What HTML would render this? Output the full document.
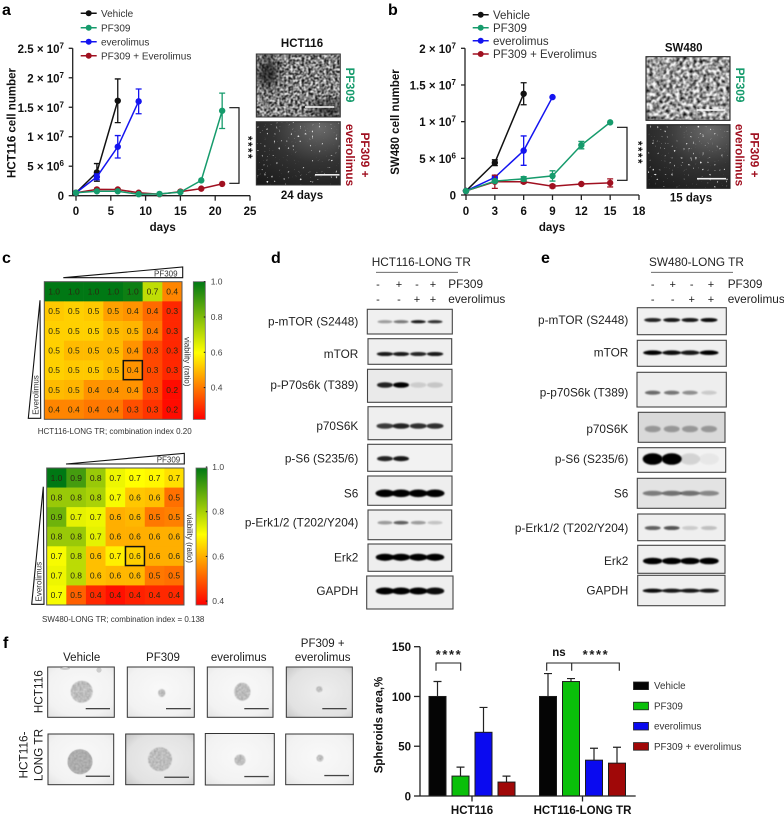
<!DOCTYPE html>
<html lang="en">
<head>
<meta charset="utf-8">
<title>PF309 and everolimus figure</title>
<style>
html,body{margin:0;padding:0;background:#fff;width:784px;height:820px;overflow:hidden}
svg{position:absolute;left:0;top:0;display:block}
text{font-family:"Liberation Sans",Arial,sans-serif;fill:#1c1c1c}
.b{font-weight:bold}
.letter{font-size:16px;font-weight:bold;fill:#000}
.tick{font-size:11.5px;font-weight:bold;fill:#111}
.lane{font-size:11.8px;fill:#222}
.cap{font-size:8px;fill:#333}
</style>
</head>
<body>
<svg id="figure" width="784" height="820" viewBox="0 0 784 820" xmlns="http://www.w3.org/2000/svg">
<defs>
  <filter id="noiseBright" color-interpolation-filters="sRGB" x="0" y="0" width="100%" height="100%"><feTurbulence type="fractalNoise" baseFrequency="0.45" numOctaves="2" seed="4"/><feColorMatrix type="matrix" values="2.6 0 0 0 -0.8 2.6 0 0 0 -0.8 2.6 0 0 0 -0.8 0 0 0 0 1"/><feGaussianBlur stdDeviation="0.4"/></filter>
  <filter id="noiseMottled" color-interpolation-filters="sRGB" x="0" y="0" width="100%" height="100%"><feTurbulence type="fractalNoise" baseFrequency="0.3" numOctaves="2" seed="9"/><feColorMatrix type="matrix" values="2 0 0 0 -0.38 2 0 0 0 -0.38 2 0 0 0 -0.38 0 0 0 0 1"/><feGaussianBlur stdDeviation="0.4"/></filter>
  <filter id="sparks" color-interpolation-filters="sRGB" x="0" y="0" width="100%" height="100%"><feTurbulence type="fractalNoise" baseFrequency="0.42" numOctaves="1" seed="12"/><feColorMatrix type="matrix" values="0 0 0 0 1 0 0 0 0 1 0 0 0 0 1 12 0 0 0 -8.2"/><feGaussianBlur stdDeviation="0.35"/></filter>
  <filter id="soft" x="-30%" y="-30%" width="160%" height="160%"><feGaussianBlur stdDeviation="5"/></filter>
  <filter id="bandBlur" x="-30%" y="-100%" width="160%" height="300%"><feGaussianBlur stdDeviation="0.9"/></filter>
  <filter id="spheroidTex" color-interpolation-filters="sRGB" x="-10%" y="-10%" width="120%" height="120%"><feTurbulence type="fractalNoise" baseFrequency="0.55" numOctaves="2" seed="3" result="n"/><feColorMatrix in="n" type="matrix" values="0.36 0 0 0 0.56 0.36 0 0 0 0.56 0.36 0 0 0 0.56 0 0 0 0 1" result="g"/><feComposite in="g" in2="SourceAlpha" operator="in"/><feGaussianBlur stdDeviation="0.5"/></filter>
  <radialGradient id="bgLight" cx="50%" cy="45%" r="75%"><stop offset="0" stop-color="#f9f9f9"/><stop offset="0.7" stop-color="#f2f2f2"/><stop offset="1" stop-color="#e2e2e2"/></radialGradient>
  <radialGradient id="bgMid" cx="55%" cy="50%" r="75%"><stop offset="0" stop-color="#eeeeee"/><stop offset="0.7" stop-color="#e2e2e2"/><stop offset="1" stop-color="#c4c4c4"/></radialGradient>
  <radialGradient id="bgDark" cx="75%" cy="10%" r="110%"><stop offset="0" stop-color="#6a6a6a"/><stop offset="0.5" stop-color="#333"/><stop offset="1" stop-color="#1b1b1b"/></radialGradient>
  <linearGradient id="cbar1" x1="0" y1="1" x2="0" y2="0"><stop offset="0" stop-color="#ff0000"/><stop offset="0.485" stop-color="#ffff00"/><stop offset="1" stop-color="#007814"/></linearGradient>
  <linearGradient id="cbar2" x1="0" y1="1" x2="0" y2="0"><stop offset="0" stop-color="#ff0000"/><stop offset="0.516" stop-color="#ffff00"/><stop offset="1" stop-color="#007814"/></linearGradient>
  <clipPath id="clipA1"><rect x="256.3" y="54" width="84" height="63"/></clipPath>
</defs>

<text class="letter" x="2" y="15">a</text>
<text class="letter" x="388" y="15">b</text>
<text class="letter" x="2" y="263">c</text>
<text class="letter" x="271" y="263">d</text>
<text class="letter" x="541" y="263">e</text>
<text class="letter" x="3" y="648">f</text>

<!-- Panel a chart container -->
<g id="chartA"></g>
<text class="tick" x="162.7" y="231" text-anchor="middle">days</text>
<text class="tick" transform="translate(15.5,123) rotate(-90)" text-anchor="middle">HCT116 cell number</text>
<path d="M229.3 107.7H239V183.3H229.3" fill="none" stroke="#111" stroke-width="1.2"/>
<text class="tick" transform="translate(244,148) rotate(90)" text-anchor="middle" style="letter-spacing:1.5px">****</text>

<!-- Panel a photos -->
<text class="tick" x="302" y="47" text-anchor="middle">HCT116</text>
<g clip-path="url(#clipA1)">
  <rect x="256.3" y="54" width="84" height="63" fill="#777" filter="url(#noiseBright)"/>
  <ellipse cx="268" cy="73" rx="10" ry="16" fill="#111" opacity="0.7" filter="url(#soft)"/>
  <ellipse cx="328" cy="109" rx="18" ry="7" fill="#111" opacity="0.7" filter="url(#soft)"/>
  <rect x="305" y="106.2" width="29.3" height="1.6" fill="#eee"/>
</g>
<rect x="256.3" y="54" width="84" height="63" fill="none" stroke="#333" stroke-width="1"/>
<g>
  <rect x="256.3" y="121.7" width="84" height="63.3" fill="url(#bgDark)"/>
  <rect x="256.3" y="121.7" width="84" height="63.3" fill="#fff" filter="url(#sparks)" opacity="0.85"/>
  <rect x="315" y="174" width="24.5" height="1.6" fill="#eee"/>
  <rect x="256.3" y="121.7" width="84" height="63.3" fill="none" stroke="#333" stroke-width="1"/>
</g>
<text class="tick" x="302" y="199" text-anchor="middle">24 days</text>
<text class="b" font-size="11.8" style="fill:#169b6c" transform="translate(346,85) rotate(90)" text-anchor="middle">PF309</text>
<text class="b" font-size="11.8" style="fill:#a01020" transform="translate(361,155) rotate(90)" text-anchor="middle">PF309 +</text>
<text class="b" font-size="11.8" style="fill:#a01020" transform="translate(346,155) rotate(90)" text-anchor="middle">everolimus</text>

<!-- Panel b chart container -->
<g id="chartB"></g>
<text class="tick" x="552" y="231" text-anchor="middle">days</text>
<text class="tick" transform="translate(399,122) rotate(-90)" text-anchor="middle">SW480 cell number</text>
<path d="M617 127.3H627V180.3H617" fill="none" stroke="#111" stroke-width="1.2"/>
<text class="tick" transform="translate(634,153) rotate(90)" text-anchor="middle" style="letter-spacing:1.5px">****</text>

<!-- Panel b photos -->
<text class="tick" x="683.7" y="51.7" text-anchor="middle">SW480</text>
<g>
  <rect x="646" y="56.7" width="84" height="63.6" fill="#999" filter="url(#noiseMottled)"/>
  <rect x="697" y="109.2" width="28.3" height="1.6" fill="#f4f4f4"/>
  <rect x="646" y="56.7" width="84" height="63.6" fill="none" stroke="#222" stroke-width="1.1"/>
</g>
<g>
  <rect x="647" y="124.7" width="83" height="63.6" fill="url(#bgDark)"/>
  <rect x="647" y="124.7" width="83" height="63.6" fill="#fff" filter="url(#sparks)" opacity="0.85"/>
  <rect x="697" y="177.9" width="29" height="1.6" fill="#f4f4f4"/>
  <rect x="647" y="124.7" width="83" height="63.6" fill="none" stroke="#222" stroke-width="1.1"/>
</g>
<text class="tick" x="691" y="201.7" text-anchor="middle">15 days</text>
<text class="b" font-size="11.8" style="fill:#169b6c" transform="translate(736,85) rotate(90)" text-anchor="middle">PF309</text>
<text class="b" font-size="11.8" style="fill:#a01020" transform="translate(750.5,155) rotate(90)" text-anchor="middle">PF309 +</text>
<text class="b" font-size="11.8" style="fill:#a01020" transform="translate(735.5,155) rotate(90)" text-anchor="middle">everolimus</text>

<!-- Panel c heatmap 1 -->
<g id="heat1"></g>
<polygon points="63.3,277.7 182.7,267 182.7,277.7" fill="#fff" stroke="#111" stroke-width="1.1"/>
<text x="154" y="276.4" font-size="8" style="fill:#333">PF309</text>
<polygon points="40,300.3 28.3,418.3 40.7,418.3" fill="#fff" stroke="#111" stroke-width="1.1"/>
<text transform="translate(38.5,395) rotate(-90)" text-anchor="middle" font-size="8" style="fill:#333">Everolimus</text>
<rect x="193.3" y="281.7" width="12" height="137.7" fill="url(#cbar1)" stroke="#666" stroke-width="0.8"/>
<text transform="translate(184.5,361.7) rotate(90)" text-anchor="middle" font-size="8" style="fill:#333">viability (ratio)</text>
<text class="cap" x="37.7" y="434">HCT116-LONG TR; combination index 0.20</text>

<!-- Panel c heatmap 2 -->
<g id="heat2"></g>
<polygon points="66,464 184.3,453.3 184.3,464" fill="#fff" stroke="#111" stroke-width="1.1"/>
<text x="156.7" y="462.6" font-size="8" style="fill:#333">PF309</text>
<polygon points="43.3,486.7 31.7,604.3 44,604.3" fill="#fff" stroke="#111" stroke-width="1.1"/>
<text transform="translate(41.5,581.7) rotate(-90)" text-anchor="middle" font-size="8" style="fill:#333">Everolimus</text>
<rect x="196" y="468" width="11.3" height="137" fill="url(#cbar2)" stroke="#666" stroke-width="0.8"/>
<text transform="translate(186.8,538.3) rotate(90)" text-anchor="middle" font-size="8" style="fill:#333">viability (ratio)</text>
<text class="cap" x="42" y="622">SW480-LONG TR; combination index = 0.138</text>

<!-- Panel d header -->
<text class="lane" x="371.7" y="266">HCT116-LONG TR</text>
<line x1="376" x2="458" y1="272.3" y2="272.3" stroke="#555" stroke-width="0.8"/>
<g font-size="11">
  <text x="378" y="288" text-anchor="middle">-</text><text x="399" y="288" text-anchor="middle">+</text><text x="417" y="288" text-anchor="middle">-</text><text x="433" y="288" text-anchor="middle">+</text>
  <text x="378" y="303" text-anchor="middle">-</text><text x="399" y="303" text-anchor="middle">-</text><text x="417" y="303" text-anchor="middle">+</text><text x="433" y="303" text-anchor="middle">+</text>
</g>
<text class="lane" x="448.3" y="288">PF309</text>
<text class="lane" x="448.3" y="303">everolimus</text>
<g id="blotD"></g>

<!-- Panel e header -->
<text class="lane" x="649" y="266">SW480-LONG TR</text>
<line x1="651" x2="733" y1="272.3" y2="272.3" stroke="#555" stroke-width="0.8"/>
<g font-size="11">
  <text x="652.7" y="288" text-anchor="middle">-</text><text x="672.7" y="288" text-anchor="middle">+</text><text x="691.7" y="288" text-anchor="middle">-</text><text x="711" y="288" text-anchor="middle">+</text>
  <text x="652.7" y="303" text-anchor="middle">-</text><text x="672.7" y="303" text-anchor="middle">-</text><text x="691.7" y="303" text-anchor="middle">+</text><text x="711" y="303" text-anchor="middle">+</text>
</g>
<text class="lane" x="727.7" y="288">PF309</text>
<text class="lane" x="727.7" y="303">everolimus</text>
<g id="blotE"></g>

<!-- Panel f photos -->
<g font-size="11.5">
  <text x="81.7" y="661" text-anchor="middle">Vehicle</text>
  <text x="163" y="661" text-anchor="middle">PF309</text>
  <text x="238.7" y="661" text-anchor="middle">everolimus</text>
  <text x="322.7" y="647" text-anchor="middle">PF309 +</text>
  <text x="322.7" y="661" text-anchor="middle">everolimus</text>
</g>
<text font-size="11.8" transform="translate(42.5,691.7) rotate(-90)" text-anchor="middle">HCT116</text>
<text font-size="11.8" transform="translate(27.5,755) rotate(-90)" text-anchor="middle">HCT116-</text>
<text font-size="11.8" transform="translate(42.5,755) rotate(-90)" text-anchor="middle">LONG TR</text>

<g><rect x="47.7" y="667" width="66.6" height="50.3" fill="url(#bgLight)" stroke="#333" stroke-width="1"/><circle cx="81.7" cy="691.7" r="11" fill="#bbb" filter="url(#spheroidTex)"/><ellipse cx="65" cy="668.5" rx="5" ry="1.5" fill="#ccc"/><circle cx="99" cy="670" r="2.6" fill="#ccc"/><rect x="85.7" y="708" width="24.3" height="1.3" fill="#444"/></g>
<g><rect x="127.3" y="667" width="67" height="50.3" fill="url(#bgLight)" stroke="#333" stroke-width="1"/><ellipse cx="161.7" cy="693" rx="3.6" ry="4" fill="#aaa" filter="url(#spheroidTex)"/><rect x="166" y="708" width="24.7" height="1.3" fill="#444"/></g>
<g><rect x="207.3" y="667" width="65.7" height="50.3" fill="url(#bgLight)" stroke="#333" stroke-width="1"/><ellipse cx="242.3" cy="691.7" rx="8.2" ry="9" fill="#bbb" filter="url(#spheroidTex)"/><rect x="244.3" y="708" width="24.4" height="1.3" fill="#444"/></g>
<g><rect x="286.3" y="667" width="66" height="50.3" fill="url(#bgMid)" stroke="#333" stroke-width="1"/><ellipse cx="319.3" cy="689.3" rx="3.2" ry="3" fill="#999" filter="url(#spheroidTex)"/><rect x="322.3" y="708" width="24.4" height="1.3" fill="#444"/></g>
<g><rect x="48" y="734" width="65.7" height="50.7" fill="url(#bgLight)" stroke="#333" stroke-width="1"/><circle cx="80" cy="761.7" r="12.5" fill="#888" filter="url(#spheroidTex)"/><circle cx="80" cy="761.7" r="12.5" fill="#777" opacity="0.22"/><rect x="85.7" y="775.6" width="24.3" height="1.3" fill="#444"/></g>
<g><rect x="125.7" y="734" width="68.3" height="50.7" fill="url(#bgMid)" stroke="#333" stroke-width="1"/><circle cx="160" cy="759.3" r="12" fill="#aaa" filter="url(#spheroidTex)"/><rect x="164.3" y="776.6" width="24.7" height="1.3" fill="#444"/></g>
<g><rect x="205.3" y="733.5" width="69" height="51.5" fill="url(#bgLight)" stroke="#333" stroke-width="1"/><circle cx="240" cy="760" r="5.5" fill="#999" filter="url(#spheroidTex)"/><rect x="244.3" y="775.9" width="24.4" height="1.3" fill="#444"/></g>
<g><rect x="285.7" y="734" width="67.6" height="50.7" fill="url(#bgLight)" stroke="#333" stroke-width="1"/><circle cx="320" cy="758.3" r="3.5" fill="#aaa" filter="url(#spheroidTex)"/><rect x="324.3" y="774.9" width="24.7" height="1.3" fill="#444"/></g>

<!-- Panel f bar chart -->
<text class="tick" transform="translate(382.7,725) rotate(-90)" text-anchor="middle">Spheroids area,%</text>
<g id="barChart"></g>
<path d="M436 670.7V663H460.7V670.7" fill="none" stroke="#222" stroke-width="1.1"/>
<text x="449" y="659" font-size="13" font-weight="bold" text-anchor="middle" style="letter-spacing:1.6px">****</text>
<path d="M546.7 670.7V663H619.3V670.7M571.7 663V670.7" fill="none" stroke="#222" stroke-width="1.1"/>
<text class="tick" x="559" y="656" text-anchor="middle">ns</text>
<text x="596" y="659" font-size="13" font-weight="bold" text-anchor="middle" style="letter-spacing:1.6px">****</text>

<script>
// ---------- Panel a data ----------
const aXTicks = [0, 5, 10, 15, 20, 25];
const aYTicks = [0, 5e6, 1e7, 1.5e7, 2e7, 2.5e7];
const aYTickLabels = [['0', ''], ['5 × 10', '6'], ['1 × 10', '7'], ['1.5 × 10', '7'], ['2 × 10', '7'], ['2.5 × 10', '7']];
const aVehicleDays = [0, 3, 6];
const aVehicleMean = [5e5, 3.95e6, 1.61e7];
const aVehicleErr = [0, 1.5e6, 3.7e6];
const aEveroDays = [0, 3, 6, 9];
const aEveroMean = [5e5, 3.2e6, 8.3e6, 1.6e7];
const aEveroErr = [0, 5e5, 1.9e6, 2.1e6];
const aPfDays = [0, 3, 6, 9, 12, 15, 18, 21];
const aPfMean = [5e5, 7.5e5, 7.5e5, 2.5e5, 3e5, 6e5, 2.6e6, 1.44e7];
const aPfErr = [0, 0, 0, 0, 0, 0, 0, 3e6];
const aComboDays = [0, 3, 6, 9, 12, 15, 18, 21];
const aComboMean = [5e5, 1.07e6, 1.05e6, 5e5, 2.5e5, 7e5, 1.2e6, 2e6];
const aComboErr = [0, 0, 0, 0, 0, 0, 0, 0];

// ---------- Panel b data ----------
const bXTicks = [0, 3, 6, 9, 12, 15, 18];
const bYTicks = [0, 5e6, 1e7, 1.5e7, 2e7];
const bYTickLabels = [['0', ''], ['5 × 10', '6'], ['1 × 10', '7'], ['1.5 × 10', '7'], ['2 × 10', '7']];
const bVehicleDays = [0, 3, 6];
const bVehicleMean = [5.5e5, 4.4e6, 1.38e7];
const bVehicleErr = [0, 4e5, 1.5e6];
const bEveroDays = [0, 3, 6, 9];
const bEveroMean = [5.5e5, 2.4e6, 6.05e6, 1.335e7];
const bEveroErr = [0, 2e5, 2e6, 0];
const bPfDays = [0, 3, 6, 9, 12, 15];
const bPfMean = [5.5e5, 1.9e6, 2.2e6, 2.6e6, 6.8e6, 9.9e6];
const bPfErr = [0, 2e5, 3e5, 7e5, 5e5, 0];
const bComboDays = [0, 3, 6, 9, 12, 15];
const bComboMean = [5.5e5, 1.8e6, 1.8e6, 1.2e6, 1.5e6, 1.65e6];
const bComboErr = [0, 9e5, 2e5, 2e5, 1e5, 5.5e5];

const seriesNames = ['Vehicle', 'PF309', 'everolimus', 'PF309 + Everolimus'];

// ---------- Heatmap data (estimated; labels are the rounded values) ----------
const heat1Values = [
  [1.00, 1.00, 1.00, 1.00, 0.98, 0.70, 0.42],
  [0.52, 0.53, 0.52, 0.46, 0.44, 0.38, 0.28],
  [0.53, 0.53, 0.53, 0.50, 0.49, 0.40, 0.28],
  [0.53, 0.50, 0.50, 0.50, 0.44, 0.33, 0.28],
  [0.53, 0.52, 0.52, 0.50, 0.44, 0.33, 0.28],
  [0.50, 0.49, 0.44, 0.44, 0.44, 0.33, 0.24],
  [0.42, 0.42, 0.40, 0.40, 0.34, 0.30, 0.24]
];
const heat2Values = [
  [1.00, 0.92, 0.82, 0.72, 0.70, 0.69, 0.66],
  [0.82, 0.82, 0.80, 0.71, 0.63, 0.62, 0.52],
  [0.87, 0.73, 0.72, 0.60, 0.61, 0.53, 0.54],
  [0.82, 0.82, 0.73, 0.60, 0.60, 0.60, 0.60],
  [0.71, 0.78, 0.62, 0.68, 0.64, 0.60, 0.60],
  [0.72, 0.78, 0.62, 0.61, 0.61, 0.53, 0.52],
  [0.71, 0.50, 0.43, 0.40, 0.42, 0.43, 0.43]
];
const heat1Ticks = [0.4, 0.6, 0.8, 1.0];
const heat2Ticks = [0.4, 0.6, 0.8, 1.0];

// ---------- Bar chart data ----------
const barGroups = ['HCT116', 'HCT116-LONG TR'];
const barSeriesNames = ['Vehicle', 'PF309', 'everolimus', 'PF309 + everolimus'];
const barHct116Values = [100, 20, 64, 14];
const barHct116Errors = [15, 9, 25, 6];
const barLongValues = [100, 115, 36, 33];
const barLongErrors = [23, 3, 12, 16];
const barYTicks = [0, 50, 100, 150];

const SVGNS = 'http://www.w3.org/2000/svg';
function el(tag, attrs, parent) {
  const node = document.createElementNS(SVGNS, tag);
  for (const k in attrs) node.setAttribute(k, attrs[k]);
  parent.appendChild(node);
  return node;
}

// ---------- Line charts ----------
const seriesColors = { vehicle: '#111111', pf: '#169b6c', evero: '#1414f0', combo: '#a01020' };

function drawAxes(g, xScale, yScale, xTicks, yTicks, yLabels, axisX, xEnd, labelX, prefix) {
  const yAxis = el('line', { x1: axisX, x2: axisX, y1: yScale(yTicks[yTicks.length - 1]), y2: yScale(0), stroke: '#222', 'stroke-width': 1.3 }, g);
  
  
  const xAxis = el('line', { x1: axisX, x2: xEnd, y1: yScale(0), y2: yScale(0), stroke: '#222', 'stroke-width': 1.3 }, g);
  
  
  xTicks.forEach(function (t) {
    const mark = el('line', { x1: xScale(t), x2: xScale(t), y1: yScale(0), y2: yScale(0) + 5, stroke: '#222', 'stroke-width': 1.3 }, g);
    
    
    const lab = el('text', { x: xScale(t), y: 215, 'text-anchor': 'middle', class: 'tick' }, g);
    
    
    lab.textContent = t;
  });
  yTicks.forEach(function (t, i) {
    const mark = el('line', { x1: axisX - 4, x2: axisX, y1: yScale(t), y2: yScale(t), stroke: '#222', 'stroke-width': 1.3 }, g);
    
    
    const lab = el('text', { x: labelX, y: yScale(t) + 4.5, 'text-anchor': 'end', class: 'tick' }, g);
    
    
    lab.textContent = yLabels[i][0];
    if (yLabels[i][1]) {
      const sup = el('tspan', { dy: -4.5, 'font-size': 8 }, lab);
      sup.textContent = yLabels[i][1];
    }
  });
}

function drawSeries(g, xScale, yScale, days, mean, err, color, name) {
  const points = days.map(function (d, i) { return xScale(d) + ',' + yScale(mean[i]); }).join(' ');
  const line = el('polyline', { points: points, fill: 'none', stroke: color, 'stroke-width': 1.5 }, g);
  
  
  days.forEach(function (d, i) {
    const cx = xScale(d);
    if (err[i] > 0) {
      const bar = el('path', {
        d: 'M' + (cx - 3) + ' ' + yScale(mean[i] + err[i]) + 'H' + (cx + 3) + 'M' + cx + ' ' + yScale(mean[i] + err[i]) + 'V' + yScale(mean[i] - err[i]) + 'M' + (cx - 3) + ' ' + yScale(mean[i] - err[i]) + 'H' + (cx + 3),
        fill: 'none', stroke: color, 'stroke-width': 1.3
      }, g);
      
      
    }
    const dot = el('circle', { cx: cx, cy: yScale(mean[i]), r: 3.2, fill: color }, g);
    
    
  });
}

function drawLegend(g, colors, lineX, textX, rowYs, size, prefix) {
  seriesNames.forEach(function (label, i) {
    const row = el('g', {}, g);
    
    
    el('line', { x1: lineX, x2: lineX + 16, y1: rowYs[i], y2: rowYs[i], stroke: colors[i], 'stroke-width': 1.5 }, row);
    el('circle', { cx: lineX + 8, cy: rowYs[i], r: 3, fill: colors[i] }, row);
    const t = el('text', { x: textX, y: rowYs[i] + size * 0.36, 'font-size': size }, row);
    
    
    t.style.fill = '#333';
    t.textContent = label;
  });
}

(function () {
  const g = document.getElementById('chartA');
  const x = function (d) { return 76 + d * (250 - 76) / 25; };
  const y = function (v) { return 195.7 - v * (195.7 - 48.3) / 2.5e7; };
  drawAxes(g, x, y, aXTicks, aYTicks, aYTickLabels, 72.7, 250, 64, 'chart-a');
  drawSeries(g, x, y, aVehicleDays, aVehicleMean, aVehicleErr, seriesColors.vehicle, 'vehicle-a');
  drawSeries(g, x, y, aEveroDays, aEveroMean, aEveroErr, seriesColors.evero, 'everolimus-a');
  drawSeries(g, x, y, aComboDays, aComboMean, aComboErr, seriesColors.combo, 'combination-a');
  drawSeries(g, x, y, aPfDays, aPfMean, aPfErr, seriesColors.pf, 'pf309-a');
  drawLegend(g, [seriesColors.vehicle, seriesColors.pf, seriesColors.evero, seriesColors.combo], 80.7, 101, [13.3, 27.7, 41.7, 55.7], 10, 'chart-a');

  const gb = document.getElementById('chartB');
  const xb = function (d) { return 466 + d * (639 - 466) / 18; };
  const yb = function (v) { return 195 - v * (195 - 48.3) / 2e7; };
  drawAxes(gb, xb, yb, bXTicks, bYTicks, bYTickLabels, 465, 639, 456, 'chart-b');
  drawSeries(gb, xb, yb, bVehicleDays, bVehicleMean, bVehicleErr, seriesColors.vehicle, 'vehicle-b');
  drawSeries(gb, xb, yb, bEveroDays, bEveroMean, bEveroErr, seriesColors.evero, 'everolimus-b');
  drawSeries(gb, xb, yb, bComboDays, bComboMean, bComboErr, seriesColors.combo, 'combination-b');
  drawSeries(gb, xb, yb, bPfDays, bPfMean, bPfErr, seriesColors.pf, 'pf309-b');
  drawLegend(gb, [seriesColors.vehicle, seriesColors.pf, seriesColors.evero, seriesColors.combo], 472.7, 493, [14.7, 27.7, 40.7, 54], 11.5, 'chart-b');
})();

// ---------- Heatmaps ----------
function mix(a, b, t) {
  return 'rgb(' + a.map(function (c, i) { return Math.round(c + (b[i] - c) * t); }).join(',') + ')';
}
function heatColor(v, low, mid) {
  if (v <= mid) return mix([255, 0, 0], [255, 255, 0], Math.max(0, (v - low) / (mid - low)));
  return mix([255, 255, 0], [0, 120, 20], Math.min(1, (v - mid) / (1 - mid)));
}
function drawHeat(g, values, x0, x1, y0, y1, low, mid, ticks, barRight, labelX, tickY, prefix) {
  const cw = (x1 - x0) / values[0].length;
  const ch = (y1 - y0) / values.length;
  values.forEach(function (row, r) {
    row.forEach(function (v, c) {
      const cell = el('rect', { x: x0 + c * cw, y: y0 + r * ch, width: cw + 0.3, height: ch + 0.3, fill: heatColor(v, low, mid) }, g);
      
      
      const label = el('text', { x: x0 + (c + 0.5) * cw, y: y0 + (r + 0.5) * ch + 3, 'text-anchor': 'middle', 'font-size': 8.5 }, g);
      
      
      label.style.fill = '#2a2a10';
      label.textContent = v.toFixed(1);
    });
  });
  const frame = el('rect', { x: x0, y: y0, width: x1 - x0, height: y1 - y0, fill: 'none', stroke: '#555', 'stroke-width': 1 }, g);
  
  
  const hi = el('rect', { x: x0 + 4 * cw + 0.3, y: y0 + 4 * ch + 0.3, width: cw - 0.6, height: ch - 0.6, fill: 'none', stroke: '#111', 'stroke-width': 1.5 }, g);
  
  
  ticks.forEach(function (t) {
    const mark = el('line', { x1: barRight - 1.5, x2: barRight, y1: tickY(t), y2: tickY(t), stroke: '#111', 'stroke-width': 1 }, g.parentNode);
    
    
    const lab = el('text', { x: labelX, y: tickY(t) + 3, 'font-size': 8.5 }, g);
    
    
    lab.style.fill = '#444';
    lab.textContent = t.toFixed(1);
  });
}
drawHeat(document.getElementById('heat1'), heat1Values, 44.3, 182, 281.7, 419.3, 0.223, 0.6, heat1Ticks, 205.3, 210.7,
  function (t) { return 281.7 + (1 - t) / 0.2 * 35.3; }, 'heatmap-1');
drawHeat(document.getElementById('heat2'), heat2Values, 46.7, 184, 468, 605, 0.38, 0.7, heat2Ticks, 207.3, 212.3,
  function (t) { return 467 + (1 - t) / 0.2 * 44.7; }, 'heatmap-2');

// ---------- Western blots ----------
function blot(groupId, labelRight, lanes, label, x0, x1, y0, y1, bandY, bg, levels, w, h) {
  const root = document.getElementById(groupId);
  const row = el('g', {}, root);
  
  
  const t = el('text', { x: labelRight, y: bandY + 4, 'text-anchor': 'end', class: 'lane' }, row);
  
  
  t.textContent = label;
  el('rect', { x: x0, y: y0, width: x1 - x0, height: y1 - y0, fill: bg, stroke: '#444', 'stroke-width': 1.1 }, row);
  levels.forEach(function (lv, i) {
    if (lv <= 0) return;
    const band = el('ellipse', { cx: lanes[i], cy: bandY, rx: w / 2 + 1, ry: h / 2 + 0.3, fill: '#000', opacity: lv, filter: 'url(#bandBlur)' }, row);
    
    
  });
}
const lanesD = [385, 401, 418.3, 435];
const lanesE = [652.7, 671.7, 690, 709];
blot('blotD', 358.3, lanesD, 'p-mTOR (S2448)', 367.3, 452.3, 309.3, 334, 321.7, '#f0f0f0', [.35, .5, .9, .8], 13, 2.6);
blot('blotD', 358.3, lanesD, 'mTOR', 368, 451.7, 338.7, 364.3, 354, '#efefef', [.9, .9, .85, .9], 14.5, 3.5);
blot('blotD', 358.3, lanesD, 'p-P70s6k (T389)', 367.5, 452, 369.3, 402.3, 385, '#eaeaea', [.85, 1, .12, .15], 14, 5);
blot('blotD', 358.3, lanesD, 'p70S6K', 368, 451.7, 406.7, 439.7, 426, '#efefef', [.75, .85, .8, .8], 15, 5);
blot('blotD', 358.3, lanesD, 'p-S6 (S235/6)', 367.7, 452, 444.3, 471.3, 458.7, '#f2f2f2', [.85, .9, 0, 0], 14, 4.5);
blot('blotD', 358.3, lanesD, 'S6', 367.7, 452, 476, 505.3, 493.3, '#eeeeee', [1, 1, 1, 1], 17, 7);
blot('blotD', 358.3, lanesD, 'p-Erk1/2 (T202/Y204)', 368, 451.7, 510, 539.7, 522.7, '#f0f0f0', [.35, .6, .35, .18], 13, 3);
blot('blotD', 358.3, lanesD, 'Erk2', 368, 451.7, 544, 571.3, 557.3, '#eeeeee', [1, 1, 1, 1], 16.5, 6.5);
blot('blotD', 358.3, lanesD, 'GAPDH', 366.7, 453, 576, 609, 591, '#eeeeee', [1, 1, 1, .95], 16.5, 6.5);

blot('blotE', 628.3, lanesE, 'p-mTOR (S2448)', 637.3, 726.3, 307.7, 334.7, 320, '#f0f0f0', [.85, .9, .9, .95], 15, 3.5);
blot('blotE', 628.3, lanesE, 'mTOR', 637.3, 726.3, 340.3, 366.3, 352.7, '#efefef', [1, .95, .9, 1], 17, 4);
blot('blotE', 628.3, lanesE, 'p-p70S6k (T389)', 637, 726.3, 372.3, 407, 392.7, '#eeeeee', [.55, .5, .4, .15], 13.5, 3.5);
blot('blotE', 628.3, lanesE, 'p70S6K', 638.3, 725, 412.3, 442.3, 429, '#d9d9d9', [.3, .3, .3, .3], 14, 6);
blot('blotE', 628.3, lanesE, 'p-S6 (S235/6)', 637.7, 725.7, 447.7, 472.3, 459, '#f2f2f2', [1, 1, .12, .04], 18, 11);
blot('blotE', 628.3, lanesE, 'S6', 637.3, 725.7, 478.3, 508.3, 493.3, '#e3e3e3', [.45, .5, .5, .4], 18, 4.5);
blot('blotE', 628.3, lanesE, 'p-Erk1/2 (T202/Y204)', 637.7, 725, 514, 540.7, 528, '#efefef', [.6, .65, .15, .2], 14, 3.5);
blot('blotE', 628.3, lanesE, 'Erk2', 637.7, 725, 545.3, 573.3, 561, '#eeeeee', [1, 1, 1, 1], 17.5, 6);
blot('blotE', 628.3, lanesE, 'GAPDH', 637.7, 725, 575.3, 605.7, 590.7, '#efefef', [.95, .9, .9, .9], 18, 3.5);

// ---------- Bar chart ----------
(function () {
  const g = document.getElementById('barChart');
  const colors = ['#050505', '#0ac00a', '#0a0af0', '#a00808'];
  const y = function (v) { return 796 - v * (796 - 646.7) / 150; };
  const groupX = function (i) { return 472 + i * 110.5; };
  const barX = function (gi, si) { return groupX(gi) + (si - 1.5) * 23; };
  [barHct116Values, barLongValues].forEach(function (vals, gi) {
    const errs = gi === 0 ? barHct116Errors : barLongErrors;
    vals.forEach(function (v, si) {
      const cx = barX(gi, si);
      const whisk = el('path', { d: 'M' + (cx - 4) + ' ' + y(v + errs[si]) + 'H' + (cx + 4) + 'M' + cx + ' ' + y(v + errs[si]) + 'V' + y(v), fill: 'none', stroke: '#222', 'stroke-width': 1.2 }, g);
      
      
      const bar = el('rect', { x: cx - 8.5, y: y(v), width: 17, height: y(0) - y(v), fill: colors[si], stroke: '#1c1c1c', 'stroke-width': 1 }, g);
      
      
    });
    const tick = el('line', { x1: groupX(gi), x2: groupX(gi), y1: y(0), y2: y(0) + 5.5, stroke: '#222', 'stroke-width': 1.3 }, g);
    
    
    const lab = el('text', { x: groupX(gi), y: 814, 'text-anchor': 'middle', class: 'tick' }, g);
    
    
    lab.textContent = barGroups[gi];
  });
  const yAxis = el('line', { x1: 420, x2: 420, y1: y(barYTicks[barYTicks.length - 1]), y2: y(0), stroke: '#222', 'stroke-width': 1.3 }, g);
  
  
  const xAxis = el('line', { x1: 420, x2: 635.7, y1: y(0), y2: y(0), stroke: '#222', 'stroke-width': 1.3 }, g);
  
  
  barYTicks.forEach(function (t) {
    const mark = el('line', { x1: 414, x2: 420, y1: y(t), y2: y(t), stroke: '#222', 'stroke-width': 1.3 }, g);
    
    
    const lab = el('text', { x: 411, y: y(t) + 4.5, 'text-anchor': 'end', class: 'tick' }, g);
    
    
    lab.textContent = t;
  });
  barSeriesNames.forEach(function (name, i) {
    const entry = el('g', {}, g);
    
    
    const swatchY = 682 + i * 20.2;
    el('rect', { x: 633.5, y: swatchY, width: 15, height: 7.6, fill: colors[i], stroke: '#222', 'stroke-width': 0.8 }, entry);
    const t = el('text', { x: 654, y: swatchY + 7.2, 'font-size': 9.8 }, entry);
    
    
    t.style.fill = '#333';
    t.textContent = name;
  });
})();
</script>
</svg>
</body>
</html>
